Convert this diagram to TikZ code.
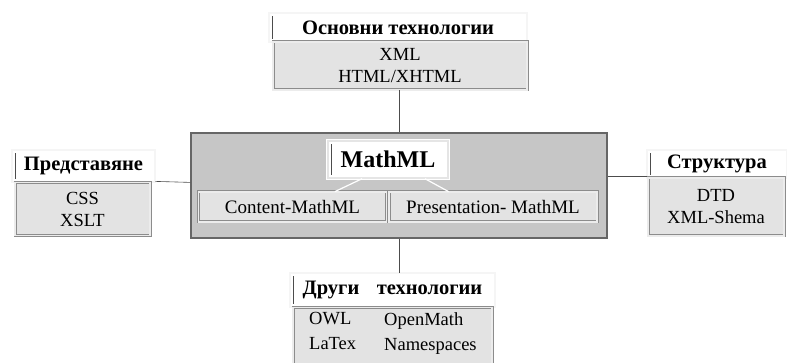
\documentclass[tikz,border=0pt]{standalone}
\usepackage{fontspec}
\setmainfont{Liberation Serif}
\definecolor{frame}{HTML}{8C8C8C}
\definecolor{panel}{HTML}{E3E3E3}
\definecolor{central}{HTML}{C6C6C6}
\tikzset{
  titlebox/.style={draw=frame!70, fill=white, line width=0.8pt, inner sep=0pt,
    double=white!92!gray, double distance=1.2pt,
    font=\fontsize{20.5}{22}\selectfont\bfseries,
    path picture={\draw[line width=1.6pt, black!70] ([xshift=3.5pt,yshift=3pt]path picture bounding box.south west) -- ([xshift=3.5pt,yshift=-3pt]path picture bounding box.north west);}},
  listbox/.style={draw=frame, fill=panel, double=white!85!gray, double distance=1.6pt, line width=0.7pt,
    inner sep=0pt, align=center, font=\fontsize{18.5}{22}\selectfont},
  childbox/.style={draw=frame, fill=panel, double=white!85!gray, double distance=1.6pt, line width=0.7pt,
    inner sep=0pt, font=\fontsize{19}{21}\selectfont},
  link/.style={draw=black!70, line width=0.6pt},
  wlink/.style={draw=white, line width=1.2pt},
}
\begin{document}
\begin{tikzpicture}[x=1pt,y=-1pt]
\useasboundingbox (0,0) rectangle (787,363);
% central panel
\node[draw=black!60, fill=central, line width=1.5pt, minimum width=416pt, minimum height=105pt] (core) at (399,185.5) {};
\node[titlebox, font=\fontsize{24}{26}\selectfont\bfseries, minimum width=120pt, minimum height=37pt, draw=white, double=white!80!gray, line width=1.5pt] (mathml) at (388,159.5) {MathML};
\node[childbox, minimum width=188pt, minimum height=30pt] (content) at (292.5,207) {Content-MathML};
\node[childbox, minimum width=208pt, minimum height=30pt] (pres) at (493,207) {Presentation- MathML};
\draw[wlink] ([xshift=-26pt]mathml.south) -- ([xshift=-52pt]content.north east);
\draw[wlink] ([xshift=37pt]mathml.south) -- ([xshift=60pt]pres.north west);
% top group
\node[titlebox, minimum width=258pt, minimum height=29pt] (toptitle) at (398,27.5) {Основни технологии};
\node[listbox, minimum width=254pt, minimum height=48pt] (toplist) at (400,66) {XML\\HTML/XHTML};
% left group
\node[titlebox, minimum width=143pt, minimum height=32pt] (lefttitle) at (83.5,166) {Представяне};
\node[listbox, minimum width=135pt, minimum height=53pt] (leftlist) at (82.5,209) {CSS\\XSLT};
% right group
\node[titlebox, minimum width=140pt, minimum height=28pt] (righttitle) at (717,164) {Структура};
\node[listbox, minimum width=136pt, minimum height=58pt] (rightlist) at (716,207) {DTD\\XML-Shema};
% bottom group
\node[titlebox, minimum width=205pt, minimum height=34pt] (bottitle) at (392.5,290) {Други\hspace{0.6em} технологии};
\node[listbox, minimum width=199pt, minimum height=60pt, anchor=north] (botlist) at (392.5,307) {};
\node[font=\fontsize{18.5}{25}\selectfont, anchor=north west, align=left, inner sep=0pt] (botcol1) at (309,312) {OWL\\LaTex};
\node[font=\fontsize{18.5}{25}\selectfont, anchor=north west, align=left, inner sep=0pt] (botcol2) at (384,312) {OpenMath\\Namespaces};
% connectors
\draw[link] (core.north) -- (core.north |- toplist.south);
\draw[link] (lefttitle.south east) ++(0,1pt) -- (core.west |- lefttitle.south east);
\draw[link] (core.east |- righttitle.south west) ++(0,2pt) -- ([yshift=2pt]righttitle.south west);
\draw[link] (core.south) -- (core.south |- bottitle.north);
\end{tikzpicture}
\end{document}
